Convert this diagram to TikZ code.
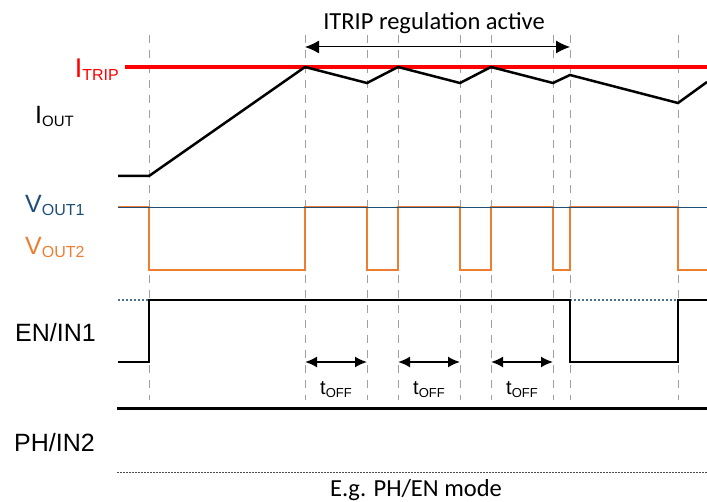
\documentclass[tikz,border=0pt]{standalone}
\usepackage{fontspec}
\setmainfont{Liberation Sans}
\newfontfamily\notefont{Carlito}
\usepackage{xcolor}
\usetikzlibrary{arrows.meta,calc}

\definecolor{tripred}{RGB}{255,0,0}
\definecolor{voutorange}{RGB}{237,125,49}
\definecolor{voutblue}{RGB}{31,78,121}
\definecolor{guidegray}{RGB}{160,160,160}

% small lowered subscript for signal names
\newcommand{\sublbl}[2][16]{\raisebox{-3pt}{\fontsize{#1}{#1}\selectfont #2}}

\begin{document}
\begin{tikzpicture}[
    x=1pt, y=-1pt, % one unit = one pixel of the original
    guide/.style={guidegray, line width=1pt, dash pattern=on 8pt off 7pt},
    wave/.style={line width=2.5pt, line join=miter},
    siglabel/.style={inner sep=0pt, anchor=base west, font=\fontsize{25}{28}\selectfont},
    toff/.style={inner sep=0pt, anchor=base, font=\fontsize{20}{22}\selectfont},
    note/.style={inner sep=0pt, anchor=base, font=\notefont\fontsize{24.5}{28}\selectfont},
    span/.style={{Latex[length=12pt,width=11pt]}-{Latex[length=12pt,width=11pt]}, line width=1.8pt},
    wide span/.style={{Latex[length=14pt,width=13pt]}-{Latex[length=14pt,width=13pt]}, line width=1pt}
]
    \useasboundingbox (0,0) rectangle (707,502);

    % dashed time markers
    \foreach \t [count=\n] in {149,305,367,398,460,491,553,570,678}
        \draw[guide] (\t,35) coordinate (top\n) -- (\t,400) coordinate (bot\n);

    % labels
    \node[siglabel, tripred, anchor=base east] (itrip) at (119,78) {\fontsize{27}{28}\selectfont I\sublbl{TRIP}};
    \node[siglabel] (iout) at (35,124) {I\sublbl[15]{OUT}};
    \node[siglabel, voutblue] (vout1) at (25,213) {V\sublbl{OUT1}};
    \node[siglabel, voutorange] (vout2) at (25,255) {V\sublbl{OUT2}};
    \node[siglabel] (en) at (15,342) {EN/IN1};
    \node[siglabel] (ph) at (14,451) {PH/IN2};
    \node[note] (regtext) at (434,30) {ITRIP regulation active};
    \node[note] (mode) at (416,496) {E.g. PH/EN mode};

    % regulation window
    \coordinate (regL) at (305,47);
    \coordinate (regR) at (570,47);
    \draw[wide span] (regL) -- (regR);

    % current
    \draw[tripred, line width=4pt] (125,67) -- (707,67);
    \draw[wave] (118,176) -- (149,176) -- (305,67) -- (367,83) -- (398,67) -- (460,83)
        -- (491,67) -- (553,83) -- (570,75) -- (678,103) -- (707,82);

    % outputs
    \draw[wave, voutorange, line width=2.8pt] (118,207) -- (149,207) -- (149,270) -- (305,270) -- (305,207)
        -- (367,207) -- (367,270) -- (398,270) -- (398,207) -- (460,207) -- (460,270)
        -- (491,270) -- (491,207) -- (553,207) -- (553,270) -- (570,270) -- (570,207)
        -- (678,207) -- (678,270) -- (707,270);
    \draw[voutblue, line width=0.8pt] (118,207) -- (707,207);

    % EN/IN1
    \draw[voutblue!80, line width=1.2pt, dash pattern=on 2pt off 2pt] (118,300) -- (707,300);
    \draw[wave] (118,362) -- (149,362) -- (149,300) -- (570,300) -- (570,362)
        -- (678,362) -- (678,300) -- (707,300);

    % off times
    \foreach \a/\b [count=\k] in {305/367, 398/460, 491/553} {
        \coordinate (offL\k) at (\a,362);
        \coordinate (offR\k) at (\b,362);
        \draw[span] (offL\k) -- (offR\k);
        \node[toff] (toff\k) at ($(offL\k)!0.5!(offR\k)+(0,33)$) {t\sublbl[13]{OFF}};
    }

    % PH/IN2
    \draw[line width=3pt] (117,409) -- (707,409);
    \draw[black!70, line width=1pt, dash pattern=on 1.5pt off 1.5pt] (117,472) -- (707,472);
\end{tikzpicture}
\end{document}
